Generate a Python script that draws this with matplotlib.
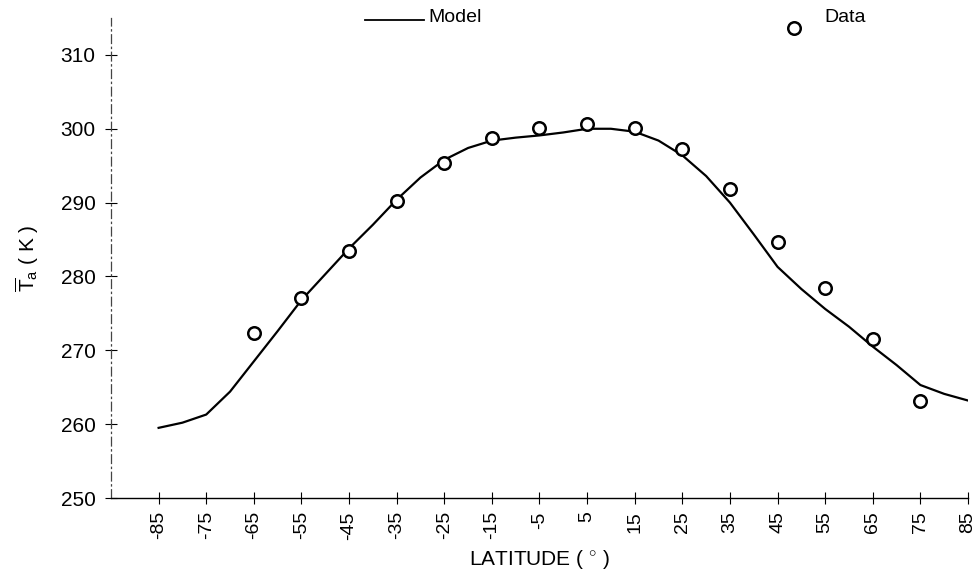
import matplotlib as mpl
mpl.use('Agg')
import matplotlib.pyplot as plt
from matplotlib.lines import Line2D

plt.rcParams['font.family'] = ['Liberation Sans', 'DejaVu Sans']
plt.rcParams['mathtext.fontset'] = 'custom'
plt.rcParams['mathtext.rm'] = 'Liberation Sans'
plt.rcParams['mathtext.it'] = 'Liberation Sans'

# model curve
model_lat = [-85, -80, -75, -70, -65, -60, -55, -50, -45, -40, -35, -30, -25, -20,
             -15, -10, -5, 0, 5, 10, 15, 20, 25, 30, 35, 40, 45, 50, 55, 60, 65,
             70, 75, 80, 85]
model_ta = [259.5, 260.2, 261.3, 264.4, 268.5, 272.6, 276.8, 280.3, 283.8, 287.0,
            290.4, 293.4, 295.8, 297.4, 298.4, 298.8, 299.1, 299.5, 300.0, 300.0,
            299.6, 298.4, 296.4, 293.6, 290.0, 285.7, 281.3, 278.3, 275.6, 273.2,
            270.5, 268.0, 265.3, 264.1, 263.2]

# observed data
data_lat = [-65, -55, -45, -35, -25, -15, -5, 5, 15, 25, 35, 45, 55, 65, 75]
data_ta = [272.4, 277.1, 283.5, 290.2, 295.4, 298.8, 300.1, 300.7, 300.1, 297.3,
           291.9, 284.7, 278.4, 271.5, 263.2]

xticks = list(range(-85, 86, 10))
yticks = [250, 260, 270, 280, 290, 300, 310]

W, H = 978, 573
fig = plt.figure(figsize=(W / 100, H / 100), dpi=100)
ax = fig.add_axes([111 / W, 1 - 498 / H, (968 - 111) / W, (498 - 18) / H])

ax.plot(model_lat, model_ta, '-', color='black', lw=1.6)
ax.plot(data_lat, data_ta, 'o', mfc='white', mec='black', ms=9, mew=1.8)

ax.set_xlim(-95, 85)
ax.set_ylim(250, 315)
ax.set_xticks(xticks)
ax.set_xticklabels([str(v) for v in xticks], rotation=90)
ax.set_yticks(yticks)

ax.spines['top'].set_visible(False)
ax.spines['right'].set_visible(False)
ax.spines['left'].set_linestyle((0, (7, 3, 1, 3)))
ax.spines['left'].set_linewidth(0.9)
ax.spines['left'].set_color('#444444')
ax.spines['bottom'].set_linewidth(1.0)

ax.tick_params(axis='x', direction='inout', length=9, width=0.8, pad=5, labelsize=14)
ax.tick_params(axis='y', direction='inout', length=8, width=0.8, pad=7, labelsize=15)

ax.set_xlabel('LATITUDE ( $^{\\circ}$ )', fontsize=15, labelpad=6)
ax.set_ylabel('$\\overline{\\mathrm{T}}_{\\mathrm{a}}$ ( K )', fontsize=15, labelpad=14)

# legend drawn at the top, as in the original
fig.add_artist(Line2D([365 / W, 424 / W], [1 - 20 / H, 1 - 20 / H],
                      color='black', lw=1.3, transform=fig.transFigure))
fig.text(428 / W, 1 - 18 / H, 'Model', fontsize=14, va='center', ha='left')
fig.add_artist(Line2D([794 / W], [1 - 28 / H], marker='o', mfc='white', mec='black',
                      ms=9, mew=1.8, transform=fig.transFigure))
fig.text(824 / W, 1 - 17 / H, 'Data', fontsize=14, va='center', ha='left')

plt.savefig('out.png', dpi=100)
